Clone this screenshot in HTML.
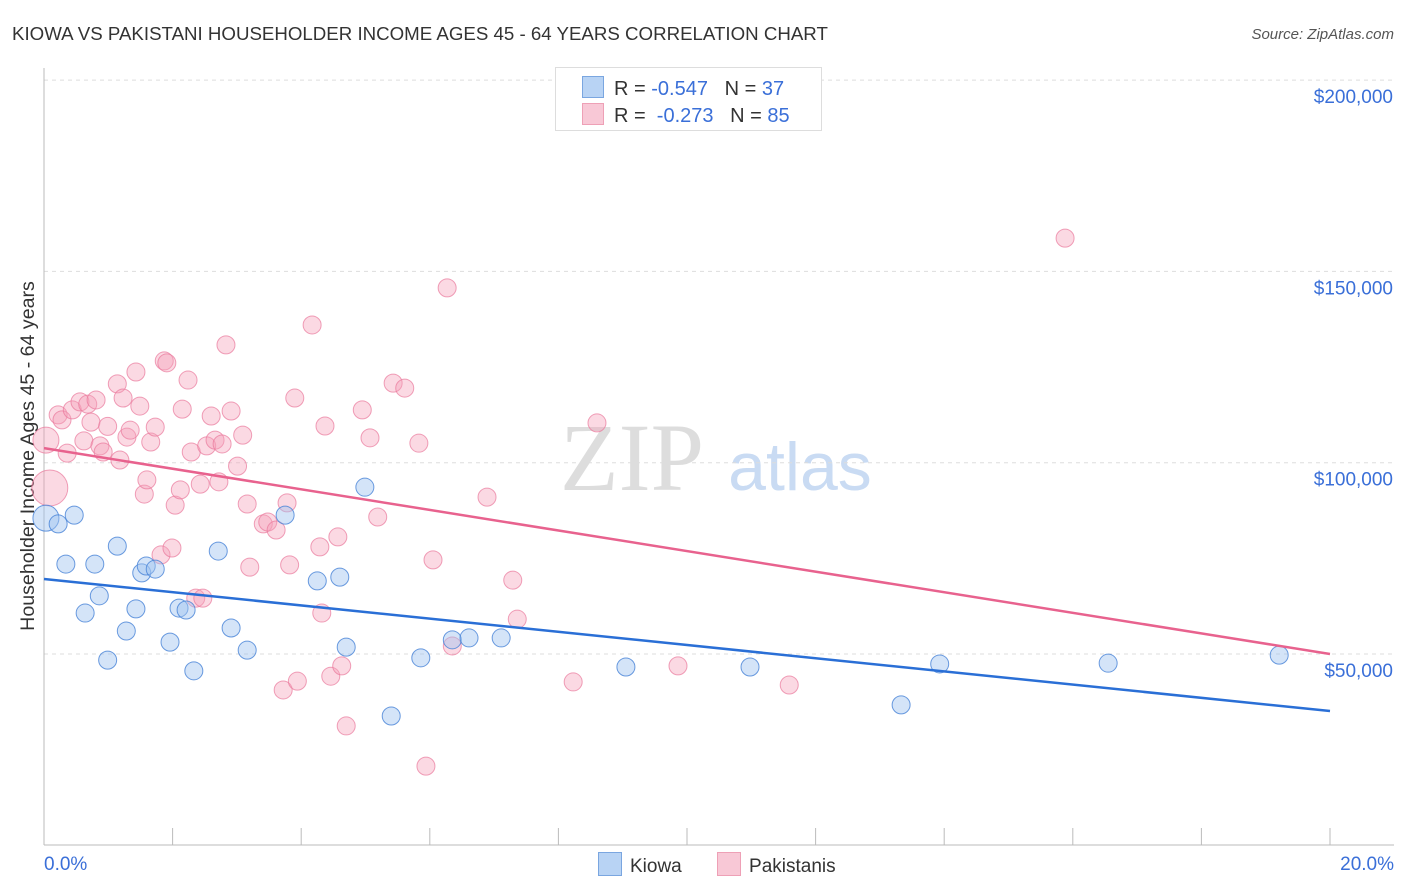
<!DOCTYPE html>
<html><head><meta charset="utf-8">
<style>
body{margin:0;background:#fff;font-family:"Liberation Sans",sans-serif;}
#wrap{position:relative;width:1406px;height:892px;overflow:hidden;}
</style></head>
<body>
<div id="wrap">
<svg id="svg" width="1406" height="892" xmlns="http://www.w3.org/2000/svg">
<text x="12" y="40" font-size="18.7" fill="#333">KIOWA VS PAKISTANI HOUSEHOLDER INCOME AGES 45 - 64 YEARS CORRELATION CHART</text>
<text x="1394" y="39" font-size="15" fill="#555" font-style="italic" text-anchor="end">Source: ZipAtlas.com</text>
<text x="632" y="490" font-size="96" fill="#ddd" font-family="Liberation Serif,serif" text-anchor="middle">ZIP</text>
<text x="800" y="490" font-size="68" fill="#c9dbf3" text-anchor="middle">atlas</text>
<text transform="translate(34,456) rotate(-90)" font-size="19.6" fill="#333" text-anchor="middle">Householder Income Ages 45 - 64 years</text>
<g id="grid"></g><g id="marks"></g>
</svg>
<div style="position:absolute;left:555px;top:67px;width:265px;height:62px;border:1px solid #ddd;background:#fff;font-size:20px;color:#333;">
 <div style="position:absolute;left:26px;top:8px;white-space:nowrap;"><span style="display:inline-block;width:20px;height:20px;background:#b8d3f4;border:1px solid #7aa6e0;vertical-align:-3px;margin-right:10px"></span>R = <span style="color:#3a6fd8">-0.547</span>&nbsp;&nbsp;&nbsp;N = <span style="color:#3a6fd8">37</span></div>
 <div style="position:absolute;left:26px;top:35px;white-space:nowrap;"><span style="display:inline-block;width:20px;height:20px;background:#f8c8d6;border:1px solid #eea0b6;vertical-align:-3px;margin-right:10px"></span>R = &nbsp;<span style="color:#3a6fd8">-0.273</span>&nbsp;&nbsp;&nbsp;N = <span style="color:#3a6fd8">85</span></div>
</div>
<div style="position:absolute;left:598px;top:852px;font-size:19px;color:#333;white-space:nowrap;">
 <span><span style="display:inline-block;width:22px;height:22px;background:#b8d3f4;border:1px solid #7aa6e0;vertical-align:-4px;margin-right:8px"></span>Kiowa</span>
 <span style="margin-left:30px"><span style="display:inline-block;width:22px;height:22px;background:#f8c8d6;border:1px solid #eea0b6;vertical-align:-4px;margin-right:8px"></span>Pakistanis</span>
</div>
</div>
<script>
const yTicks=[50000,100000,150000,200000];
const yTickLabels=["$50,000","$100,000","$150,000","$200,000"];
const xTickLabels=["0.0%","20.0%"];
const kiowaX=[0.03,0.22,0.47,0.34,0.79,1.14,0.64,0.86,1.28,1.43,1.52,1.59,1.73,0.99,1.96,2.10,2.21,2.33,2.71,2.91,3.16,3.75,4.25,4.60,4.70,4.99,5.40,5.86,6.35,6.61,7.11,9.05,10.98,13.33,13.93,16.55,19.21];
const kiowaY=[85.5,84.0,86.3,73.5,73.5,78.2,60.7,65.2,56.0,61.8,71.2,73.0,72.2,48.4,53.1,62.0,61.5,45.6,76.9,56.8,51.0,86.3,69.1,70.1,51.8,93.6,33.8,49.0,53.7,54.2,54.2,46.6,46.6,36.7,47.4,47.6,49.7];
const pakX=[0.03,0.09,0.22,0.36,0.28,0.44,0.56,0.68,0.81,0.62,0.73,0.87,0.92,0.99,1.14,1.18,1.23,1.29,1.34,1.43,1.49,1.56,1.60,1.66,1.73,1.82,1.87,1.91,1.99,2.04,2.12,2.15,2.24,2.29,2.36,2.43,2.47,2.53,2.60,2.66,2.72,2.77,2.83,2.91,3.01,3.09,3.16,3.20,3.41,3.48,3.61,3.72,3.78,3.82,3.90,3.94,4.17,4.29,4.32,4.37,4.46,4.57,4.63,4.70,4.95,5.07,5.19,5.43,5.61,5.83,5.94,6.05,6.27,6.35,6.89,7.29,7.36,8.23,8.60,9.86,11.59,15.88];
const pakY=[105.9,93.4,112.5,102.5,111.2,113.8,115.9,115.3,116.4,105.7,110.6,104.4,102.8,109.5,120.6,100.7,116.9,106.7,108.5,123.7,114.8,91.8,95.5,105.4,109.3,75.9,126.6,126.1,77.7,88.9,92.9,114.0,121.6,102.8,64.6,94.4,64.6,104.4,112.2,105.9,95.0,104.9,130.8,113.5,99.1,107.2,89.2,72.7,84.0,84.5,82.4,40.6,89.5,73.3,116.9,42.9,136.0,78.0,60.7,109.6,44.2,80.6,46.9,31.2,113.8,106.5,85.8,120.8,119.5,105.1,20.7,74.6,145.7,52.1,91.0,69.3,59.1,42.7,110.4,46.9,41.9,158.7];
const trendKiowa=[69.6,35.1];
const trendPak=[103.8,50.0];
const NS="http://www.w3.org/2000/svg";
function X(p){return 44+p*1286/20;}
function Y(k){return 654-(k-50)*191.3/50;}
function mk(t,a,parent){const e=document.createElementNS(NS,t);for(const k in a)e.setAttribute(k,a[k]);parent.appendChild(e);return e;}
const grid=document.getElementById('grid'),marks=document.getElementById('marks');
yTicks.forEach((v,i)=>{const y=Y(v/1000);
 const l=mk('line',{x1:44,x2:1394,y1:y,y2:y,stroke:'#ddd','stroke-dasharray':'4,4'},grid);
 
 
 const t=mk('text',{x:1393,y:y+23,'font-size':19,fill:'#3a6fd8','text-anchor':'end'},grid);
 t.textContent=yTickLabels[i];
 
 
});
const ax=mk('line',{x1:44,x2:44,y1:68,y2:845,stroke:'#bbb'},grid);


const bx=mk('line',{x1:44,x2:1394,y1:845,y2:845,stroke:'#bbb'},grid);


for(let i=0;i<=10;i++){const x=X(i*2);
 const tk=mk('line',{x1:x,x2:x,y1:828,y2:845,stroke:'#bbb'},grid);
 
 }
[[0,'start',44],[20,'end',1394]].forEach((d,i)=>{
 const t=mk('text',{x:d[2],y:870,'font-size':19,fill:'#3a6fd8','text-anchor':d[1]},grid);
 t.textContent=xTickLabels[i];
 
 });
pakX.forEach((x,i)=>{const r=i==0?13:(i==1?18:9);
 const c=mk('circle',{cx:X(x),cy:Y(pakY[i]),r:r,fill:'rgba(244,160,185,0.4)',stroke:'rgba(234,120,155,0.7)','stroke-width':1},marks);
 
 });
kiowaX.forEach((x,i)=>{const r=i==0?13:9;
 const c=mk('circle',{cx:X(x),cy:Y(kiowaY[i]),r:r,fill:'rgba(160,196,240,0.45)',stroke:'rgba(70,130,215,0.8)','stroke-width':1},marks);
 
 });
const tp=mk('line',{x1:X(0),x2:X(20),y1:Y(trendPak[0]),y2:Y(trendPak[1]),stroke:'#e8628e','stroke-width':2.5},marks);


const tk2=mk('line',{x1:X(0),x2:X(20),y1:Y(trendKiowa[0]),y2:Y(trendKiowa[1]),stroke:'#2a6fd6','stroke-width':2.5},marks);


</script>
</body></html>
